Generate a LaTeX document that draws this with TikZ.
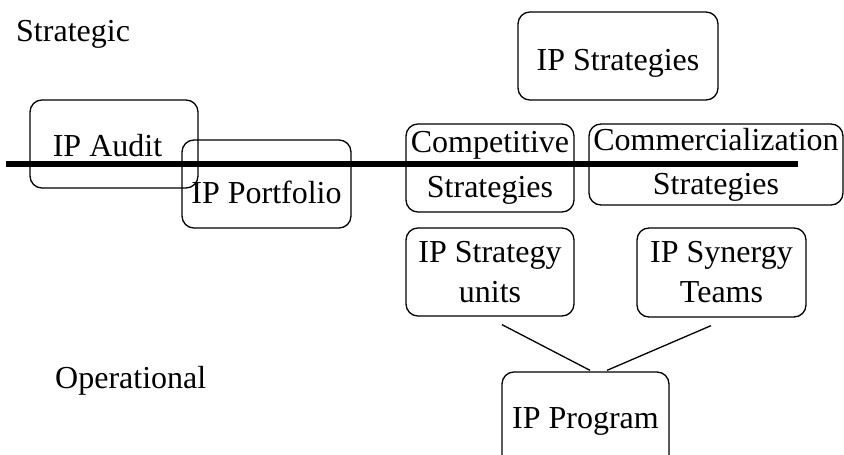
\documentclass[tikz,border=0pt]{standalone}
\usepackage{fontspec}
\setmainfont{Liberation Serif}
\usetikzlibrary{calc}
\begin{document}
\begin{tikzpicture}[x=1pt,y=-1pt,
  box/.style={draw, rounded corners=12pt, line width=1.3pt, inner sep=0pt,
    align=center, font=\fontsize{32}{38}\selectfont},
  lbl/.style={inner sep=0pt, anchor=base west, font=\fontsize{32}{38}\selectfont},
  link/.style={line width=1.3pt},
  divider/.style={line width=6pt}]
\useasboundingbox (0,0) rectangle (844,455);

% level labels
\node[lbl] (strat) at (16,41) {Strategic};
\node[lbl] (oper) at (55,388) {Operational};

% boxes
\node[box, minimum width=168pt, minimum height=88pt, text height=24pt, text depth=0pt]
  (audit) at (114,144) {IP Audit\kern13pt};
\node[box, minimum width=169pt, minimum height=88pt, text height=38pt, text depth=0pt]
  (portfolio) at (266.5,184) {IP Portfolio};
\node[box, minimum width=200pt, minimum height=88pt, text height=28pt, text depth=0pt]
  (ipstrat) at (618,56) {IP Strategies};
\node[box, minimum width=168pt, minimum height=88pt]
  (compet) at (490,168) {Competitive\\[7pt]Strategies};
\node[box, minimum width=254pt, minimum height=81pt]
  (commerc) at (716,164.5) {Commercialization\\[6pt]Strategies};
\node[box, minimum width=168pt, minimum height=88pt]
  (units) at (490,272) {IP Strategy\\[2pt]units};
\node[box, minimum width=169pt, minimum height=89pt]
  (synergy) at (721.5,272.5) {IP Synergy\\[2pt]Teams};
\node[box, minimum width=167pt, minimum height=100pt, text height=12pt, text depth=0pt]
  (program) at (585.5,422) {IP Program};

% strategic / operational divide
\coordinate (divL) at (6,164);
\coordinate (divR) at (798,164);
\draw[divider] (divL) -- (divR);

% links to the program
\draw[link] ($(units.south)+(12,8)$) -- ($(program.north)+(4.5,-1)$);
\draw[link] ($(synergy.south)+(-10.5,8)$) -- ($(program.north)+(21.5,-1)$);
\end{tikzpicture}
\end{document}
